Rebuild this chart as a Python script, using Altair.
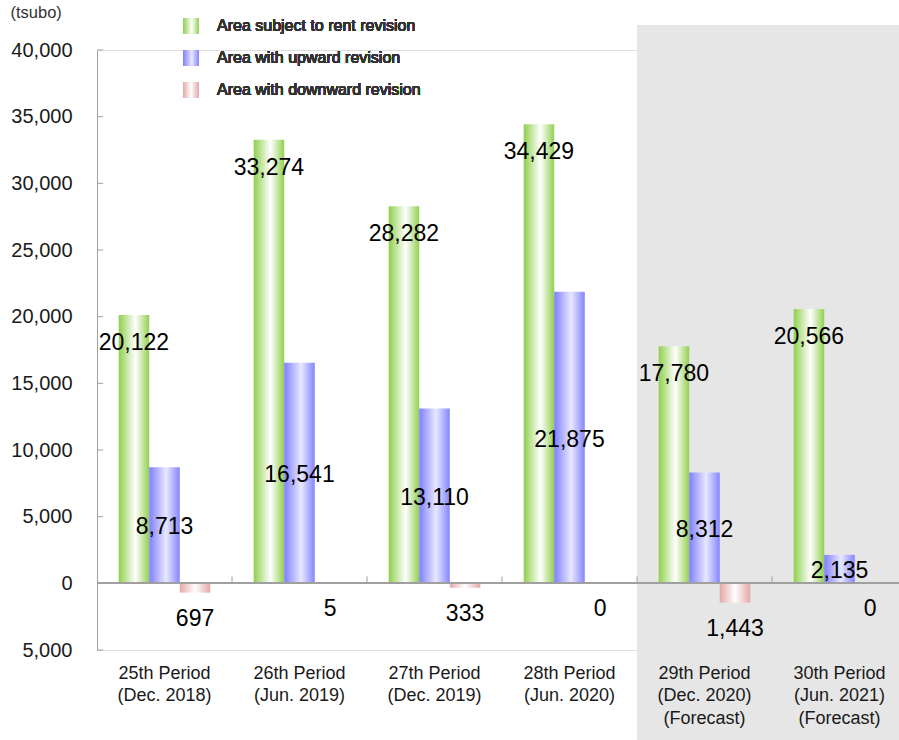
import altair as alt
import pandas as pd

# ---- data ----
periods = ["25th Period", "26th Period", "27th Period", "28th Period", "29th Period", "30th Period"]
dates = ["(Dec. 2018)", "(Jun. 2019)", "(Dec. 2019)", "(Jun. 2020)", "(Dec. 2020)", "(Jun. 2021)"]
notes = ["", "", "", "", "(Forecast)", "(Forecast)"]
rent_revision = [20122, 33274, 28282, 34429, 17780, 20566]
upward_revision = [8713, 16541, 13110, 21875, 8312, 2135]
downward_revision = [697, 5, 333, 0, 1443, 0]
series = ["Area subject to rent revision", "Area with upward revision", "Area with downward revision"]
forecast_flags = [False, False, False, False, True, True]
y_ticks = [-5000, 0, 5000, 10000, 15000, 20000, 25000, 30000, 35000, 40000]

cats = ["|".join([p, d] + ([n] if n else [])) for p, d, n in zip(periods, dates, notes)]

rows = []
for i, c in enumerate(cats):
    rows.append(dict(cat=c, series=series[0], v=rent_revision[i], y=rent_revision[i], ly=rent_revision[i]))
    rows.append(dict(cat=c, series=series[1], v=upward_revision[i], y=upward_revision[i], ly=upward_revision[i] / 2))
    rows.append(dict(cat=c, series=series[2], v=downward_revision[i], y=-downward_revision[i], ly=-downward_revision[i]))
df = pd.DataFrame(rows)

FONT = "Liberation Sans, Arial, sans-serif"
GRAY = "#a0a0a0"
TXT = "#1a1a1a"

xscale = alt.Scale(domain=cats, range=[0, 810], paddingInner=0, paddingOuter=0)
yscale = alt.Scale(domain=[-5000, 40000], nice=False, zero=False)

x_axis = alt.Axis(
    title=None, domain=False, ticks=False, labelAngle=0,
    labelExpr="split(datum.label, '|')", labelFont=FONT, labelFontSize=18, labelFontWeight="normal",
    labelLineHeight=22.5, labelPadding=14, labelColor=TXT, labelBaseline="top",
)
y_axis = alt.Axis(
    values=y_ticks, labelExpr="format(abs(datum.value), ',')", ticks=False, grid=False,
    domainColor=GRAY, domainWidth=1, labelFont=FONT, labelFontSize=20, labelColor=TXT,
    labelFontWeight="normal",
    labelPadding=25, title="(tsubo)", titleAngle=0, titleAlign="left", titleBaseline="middle",
    titleX=-87, titleY=-38, titleFont=FONT, titleFontSize=16.5, titleFontWeight="normal",
    titleColor="#333",
)

X = alt.X("cat:N", sort=cats, scale=xscale, axis=x_axis)
XO = alt.XOffset("series:N", sort=series,
                 scale=alt.Scale(domain=series, paddingInner=0, paddingOuter=0.71))


def grad(edge, mid, mid_at=0.55, edge2=None):
    return alt.LinearGradient(
        gradient="linear", x1=0, x2=1, y1=0, y2=0,
        stops=[alt.GradientStop(color=edge, offset=0),
               alt.GradientStop(color=mid, offset=mid_at),
               alt.GradientStop(color=edge2 or edge, offset=1)],
    )


grads = [
    grad("#8fcf4c", "#ffffff", 0.55, "#92d050"),
    grad("#7f7fff", "#e8e8ff", 0.55, "#8585ff"),
    grad("#e3a8a8", "#ffffff", 0.5, "#e3a8a8"),
]

# forecast background
bg_df = pd.DataFrame({"cat": [c for c, f in zip(cats, forecast_flags) if f]})
background = alt.Chart(bg_df).mark_rect(color="#e6e6e6").encode(
    x=X, y=alt.value(-25), y2=alt.value(690)
)

layers = [background]

# bars
for i, s in enumerate(series):
    layers.append(
        alt.Chart(df).transform_filter(alt.datum.series == s).mark_bar(color=grads[i]).encode(
            x=X, xOffset=XO,
            y=alt.Y("y:Q", scale=yscale, axis=y_axis),
            y2=alt.datum(0),
        )
    )

# zero line (x axis line)
layers.append(alt.Chart(df).mark_rule(color=GRAY, strokeWidth=1.2).encode(y=alt.datum(0)))

# x tick marks at band boundaries
tick_df = pd.DataFrame({"cat": cats[1:]})
layers.append(
    alt.Chart(tick_df).mark_rule(color=GRAY).encode(
        x=alt.X("cat:N", sort=cats, scale=xscale, axis=x_axis, bandPosition=0),
        y=alt.datum(0), y2=alt.datum(525),
    )
)

# inward y ticks
yt_df = pd.DataFrame({"t": y_ticks})
layers.append(
    alt.Chart(yt_df).mark_rule(color=GRAY).encode(
        y=alt.Y("t:Q", scale=yscale, axis=y_axis), x=alt.value(0), x2=alt.value(6)
    )
)

# value labels
label_dy = [28, 2, 26]
for i, s in enumerate(series):
    layers.append(
        alt.Chart(df).transform_filter(alt.datum.series == s).mark_text(
            font=FONT, fontSize=23, fontWeight="normal", color="black",
            baseline="middle", align="center", dy=label_dy[i]
        ).encode(
            x=X, xOffset=XO,
            y=alt.Y("ly:Q", scale=yscale, axis=y_axis),
            text=alt.Text("v:Q", format=","),
        )
    )

# custom legend
leg_y = [-32, 0, 32]
for i, s in enumerate(series):
    layers.append(
        alt.Chart(df).mark_rect(color=grads[i]).encode(
            x=alt.value(86), x2=alt.value(102), y=alt.value(leg_y[i]), y2=alt.value(leg_y[i] + 16)
        )
    )
    layers.append(
        alt.Chart(df).mark_text(
            text=s, font=FONT, fontSize=16, fontWeight="normal", color="#333",
            align="left", baseline="middle"
        ).encode(x=alt.value(120), y=alt.value(leg_y[i] + 8))
    )

chart = alt.layer(*layers).properties(
    width=802, height=600,
    autosize=alt.AutoSizeParams(type="none"),
    padding={"left": 97, "top": 50, "right": 0, "bottom": 90},
).configure_view(stroke=None).configure(background="white")

chart.save("out.html", embed_options={"renderer": "svg", "actions": False})
